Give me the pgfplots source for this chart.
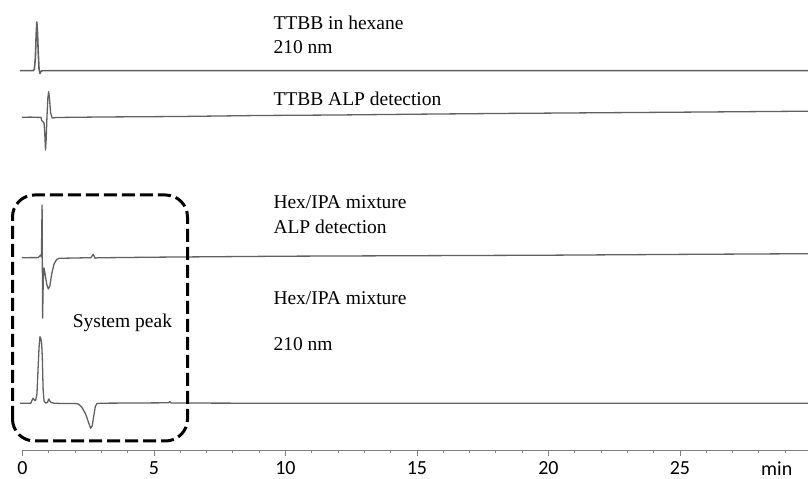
\documentclass[border=0pt]{standalone}
\usepackage{pgfplots}
\pgfplotsset{compat=1.18}
\usepackage{fontspec}
\setmainfont{Liberation Serif}
\newfontfamily\axisfont{Carlito}

\definecolor{trace}{gray}{0.38}
\definecolor{axisgray}{gray}{0.5}

\begin{document}
\begin{tikzpicture}[x=1bp,y=1bp]
\useasboundingbox (0,0) rectangle (808,479);
\begin{axis}[
  at={(21.7bp,29bp)}, anchor=south west,
  scale only axis, width=786.3bp, height=450bp,
  xmin=-0.03, xmax=29.87, ymin=0, ymax=450,
  clip=false,
  axis x line=bottom, axis y line=none,
  x axis line style={-, draw=axisgray, line width=0.9bp},
  xtick={0,5,10,15,20,25},
  minor xtick={0,1,...,29},
  tick align=outside,
  major tick length=6bp, minor tick length=3bp,
  every tick/.style={draw=axisgray, line width=0.8bp},
  /pgf/number format/assume math mode=true,
  xticklabel style={font=\axisfont\fontsize{20bp}{24bp}\selectfont, text=black, yshift=-2.5bp},
  trace/.style={draw=trace, line width=1.3bp, line join=round, mark=none},
]
% TTBB in hexane, 210 nm
\addplot[trace, line width=1.6bp] coordinates {
(-0.10,379.3) (0.40,379.3) (0.45,380.5) (0.49,392) (0.52,415) (0.545,428)
(0.57,418) (0.60,397) (0.63,381) (0.665,376.5) (0.70,378.5) (0.75,379.3)
(29.87,379.3)};
% TTBB, ALP detection
\addplot[trace] coordinates {
(-0.02,332.7) (0.30,332.9) (0.60,332.6) (0.70,332.8) (0.73,329.5) (0.78,328.3)
(0.82,327) (0.845,318) (0.875,300) (0.90,310) (0.93,333) (0.965,352)
(0.995,358.3) (1.025,352) (1.07,337) (1.13,332) (1.3,332.5) (3,333) (6,333.5)
(9,334.5) (12,335) (15,335.8) (18,336.5) (22.3,337.3) (26,338) (29.87,338.8)};
% Hex/IPA mixture, ALP detection
\addplot[trace] coordinates {
(-0.02,192.3) (0.60,192.4) (0.69,195) (0.72,193) (0.745,245) (0.765,132)
(0.79,170) (0.82,182) (0.86,176) (0.92,166) (0.98,161) (1.04,164) (1.11,176)
(1.2,186) (1.3,190.5) (1.4,191.7) (2.0,192) (2.6,192.3) (2.69,195.7)
(2.76,191.7) (2.85,192.2) (5,192.8) (10,193.8) (15,194.3) (20,194.8)
(25,195.6) (29.87,196.3)};
% Hex/IPA mixture, 210 nm
\addplot[trace] coordinates {
(-0.095,46.7) (0.28,46.7) (0.33,47) (0.35,49) (0.40,51.7) (0.45,50) (0.50,49.5)
(0.55,56) (0.59,80) (0.63,103) (0.665,113.3) (0.70,111) (0.73,106) (0.755,92)
(0.785,60) (0.82,49) (0.88,47) (0.95,47.5) (1.00,51) (1.04,49) (1.09,47.5)
(1.2,46.8) (1.6,46.4) (2.0,46.5) (2.12,46) (2.25,43) (2.40,36) (2.52,27)
(2.59,21.7) (2.65,24) (2.71,34) (2.77,43.5) (2.83,46.5) (3.0,46.8) (5.55,47.2)
(5.6,48.5) (5.65,47) (10,46.7) (20,46.7) (29.87,46.7)};
\end{axis}

% system peak frame
\draw[black, line width=3bp, rounded corners=22bp, dash pattern=on 13bp off 5bp]
  (12.5,38) rectangle (187.5,284);

\begin{scope}[every node/.style={anchor=base west, inner sep=0pt,
    font=\fontsize{19.5bp}{23bp}\selectfont}]
\node at (273.3,449.7) {TTBB in hexane};
\node at (273.3,425) {210 nm};
\node at (273.3,373) {TTBB ALP detection};
\node at (273.3,270.7) {Hex/IPA mixture};
\node at (273.3,245) {ALP detection};
\node at (273.3,174.7) {Hex/IPA mixture};
\node at (273.3,128) {210 nm};
\node at (72.7,151.7) {System peak};
\end{scope}
\node[anchor=base west, inner sep=0pt, font=\axisfont\fontsize{20bp}{24bp}\selectfont]
  at (761,3.5) {min};
\end{tikzpicture}
\end{document}
